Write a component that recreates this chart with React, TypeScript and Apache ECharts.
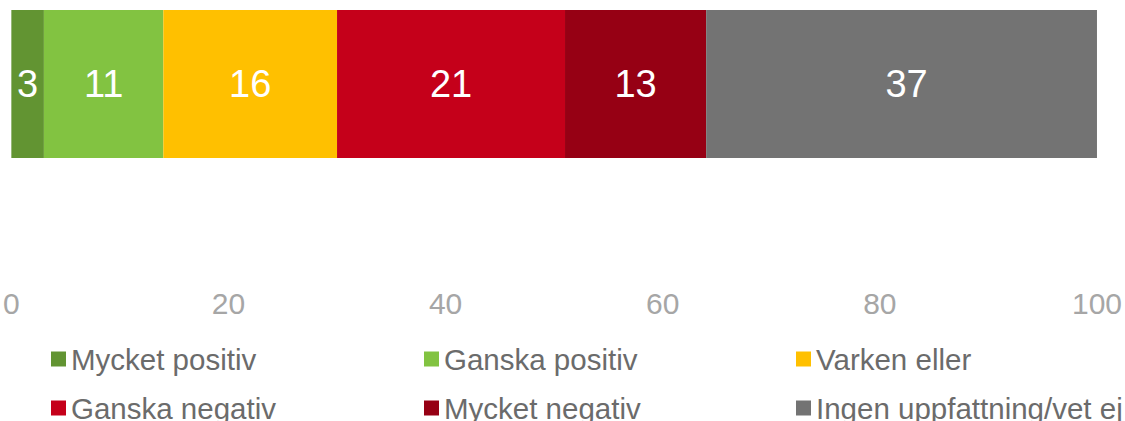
import React, { useEffect, useRef } from "react";
import * as echarts from "echarts";

const categories = ["Total"];
const seriesNames = [
  "Mycket positiv",
  "Ganska positiv",
  "Varken eller",
  "Ganska negativ",
  "Mycket negativ",
  "Ingen uppfattning/vet ej",
];
const seriesValues = [3, 11, 16, 21, 13, 37];
const seriesColors = ["#629432", "#82C341", "#FFC000", "#C5001A", "#960014", "#737373"];
const xTicks = [0, 20, 40, 60, 80, 100];

const FONT = "'Liberation Sans', Arial, sans-serif";

export default function App() {
  const ref = useRef<HTMLDivElement>(null);
  useEffect(() => {
    if (!ref.current) return;
    const chart = echarts.init(ref.current, undefined, { renderer: "svg" });
    const legendPos = [
      { left: 51, top: 344 },
      { left: 424, top: 344 },
      { left: 796, top: 344 },
      { left: 51, top: 393 },
      { left: 424, top: 393 },
      { left: 796, top: 393 },
    ];
    chart.setOption({
      animation: false,
      grid: { left: 10, right: 27, top: 10, height: 148, containLabel: false },
      xAxis: {
        type: "value",
        min: xTicks[0],
        max: xTicks[xTicks.length - 1],
        interval: 20,
        axisLine: { show: false },
        axisTick: { show: false },
        splitLine: { show: false },
        axisLabel: {
          color: "#A6A6A6",
          fontSize: 30,
          fontFamily: FONT,
          margin: 130,
        },
      },
      yAxis: {
        type: "category",
        data: categories,
        axisLine: { show: false },
        axisTick: { show: false },
        axisLabel: { show: false },
      },
      legend: seriesNames.map((n, i) => ({
        data: [n],
        left: legendPos[i].left,
        top: legendPos[i].top,
        padding: 0,
        itemWidth: 15,
        itemHeight: 15,
        icon: "rect",
        selectedMode: false,
        textStyle: {
          color: "#6B6B6B",
          fontSize: 29.5,
          lineHeight: 29,
          fontFamily: FONT,
        },
      })),
      series: seriesNames.map((n, i) => ({
        name: n,
        type: "bar",
        stack: "total",
        barWidth: "100%",
        clip: true,
        data: [seriesValues[i]],
        itemStyle: { color: seriesColors[i] },
        label: {
          show: true,
          position: "inside",
          color: "#FFFFFF",
          fontSize: 38,
          fontFamily: FONT,
          offset: i === seriesNames.length - 1 ? [5, 0] : [0, 0],
        },
      })),
    });
    return () => chart.dispose();
  }, []);
  return (
    <div
      ref={ref}
      style={{ position: "fixed", left: 0, top: 0, width: 1125, height: 421, background: "#fff" }}
    />
  );
}
